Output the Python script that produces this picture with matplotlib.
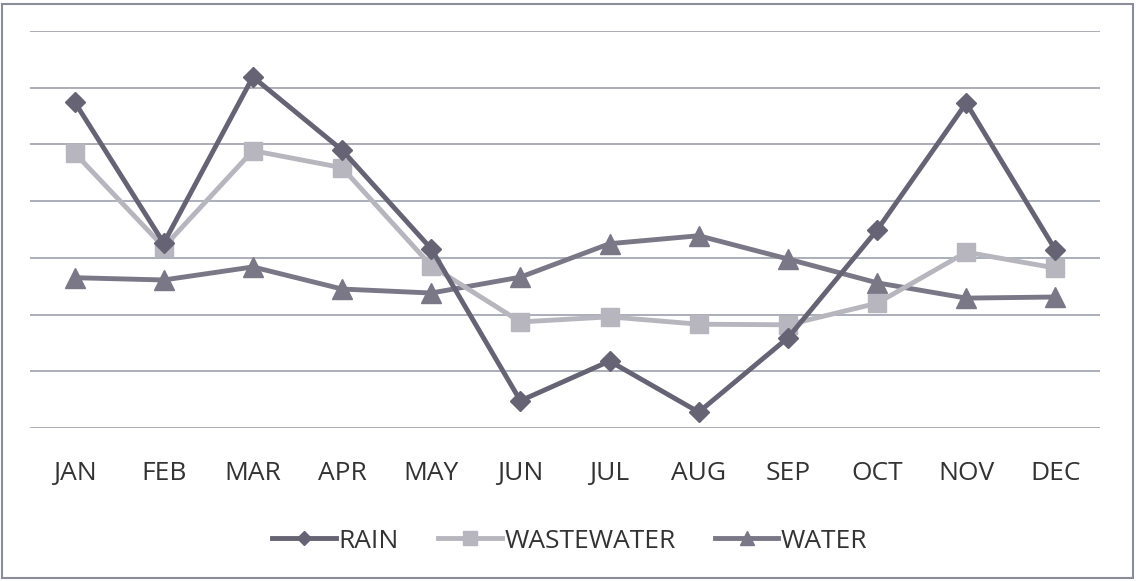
import matplotlib.pyplot as plt
from matplotlib.patches import Rectangle

months = ["JAN", "FEB", "MAR", "APR", "MAY", "JUN", "JUL", "AUG", "SEP", "OCT", "NOV", "DEC"]
rain = [5.75, 3.26, 6.19, 4.90, 3.16, 0.48, 1.18, 0.28, 1.59, 3.49, 5.73, 3.14]
wastewater = [4.85, 3.19, 4.89, 4.59, 2.86, 1.87, 1.96, 1.83, 1.82, 2.20, 3.10, 2.82]
water = [2.65, 2.61, 2.84, 2.45, 2.38, 2.66, 3.25, 3.39, 2.98, 2.56, 2.29, 2.31]

plt.rcParams['font.family'] = ['Open Sans', 'DejaVu Sans']

fig = plt.figure(figsize=(11.38, 5.81), dpi=100)
ax = fig.add_axes([30 / 1138, 153 / 581, 1070 / 1138, 397 / 581])

x = range(len(months))
ax.plot(x, water, '-^', color='#7a7787', lw=3.5, ms=14, label='WATER', zorder=3)
ax.plot(x, wastewater, '-s', color='#b7b6bf', lw=3.5, ms=13, label='WASTEWATER', zorder=4)
ax.plot(x, rain, '-D', color='#666474', lw=3.5, ms=10, label='RAIN', zorder=5)

ax.set_xlim(-0.5, len(months) - 0.5)
ax.set_ylim(0, 7)
ax.set_yticks(range(8))
ax.yaxis.grid(True, color='#9da1ad', lw=1.2)
ax.set_axisbelow(True)
ax.tick_params(left=False, labelleft=False, bottom=False)
ax.set_xticks(list(x))
ax.set_xticklabels(months, fontsize=19, color='#333333')
ax.tick_params(axis='x', pad=20)
for s in ax.spines.values():
    s.set_visible(False)

h, l = ax.get_legend_handles_labels()
order = [2, 1, 0]
fig.legend([h[i] for i in order], [l[i] for i in order], loc='center',
           bbox_to_anchor=(570 / 1138, 1 - 541 / 581), ncol=3, frameon=False,
           fontsize=19, handlelength=2.4, handletextpad=0.1, columnspacing=1.5,
           labelcolor='#333333', markerscale=0.75)

fig.patches.append(Rectangle((2 / 1138, 3 / 581), 1131 / 1138, 574 / 581,
                             transform=fig.transFigure, fill=False,
                             edgecolor='#8a8d99', lw=1.5))

fig.savefig('out.png', dpi=100)
